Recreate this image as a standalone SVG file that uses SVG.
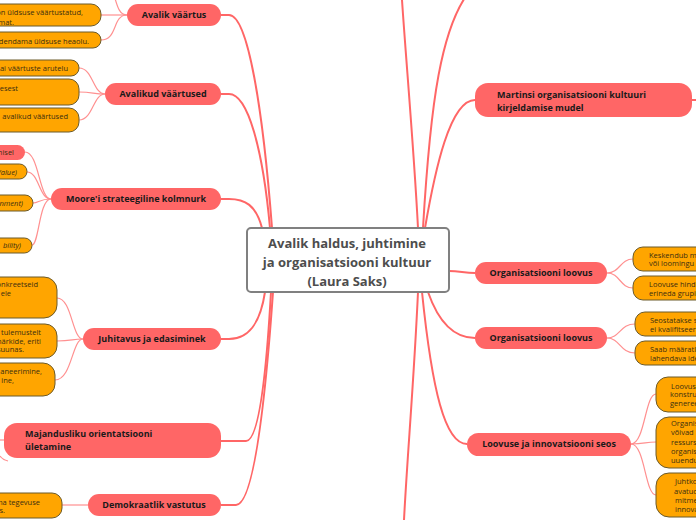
<svg xmlns="http://www.w3.org/2000/svg" width="696" height="520" viewBox="0 0 696 520">
<style>
.main rect{fill:#FF6666;}
.main text{font-family:"Open Sans","Noto Sans",sans-serif;font-weight:bold;font-size:9px;fill:#1a1a1a;}
.sub rect{fill:#FFA500;stroke:#6b5a2a;stroke-width:1;}
.sub text,.subr text{font-family:"Open Sans","Noto Sans",sans-serif;font-size:7.5px;fill:#3a2e10;}
.subr rect{fill:#FF6666;}
.it{font-style:italic;}
.c{text-anchor:middle;}
.e{text-anchor:end;}
#connectors path{fill:none;stroke:#FF6666;stroke-width:2;}
#connectors path.k{stroke:#FF9090;stroke-width:1.2;}
</style>
<rect width="696" height="520" fill="#ffffff"/>
<g id="connectors">
<path d="M221 15 L229 15 C248 15 263 110 272 228"/>
<path d="M221 94 L229 94 C248 94 263 150 270 228"/>
<path d="M221 199 L229 199 C245 199 256 205 262 228"/>
<path d="M221 339 L229 339 C248 339 260 325 265 292"/>
<path d="M221 441 L246 441 C258 441 266 380 271 292"/>
<path d="M221 505 L236 505 C252 505 264 420 273 292"/>
<path d="M418 228 C414 150 406 60 402 0"/>
<path d="M423 228 C430 110 440 20 475 -15"/>
<path d="M425 228 C435 170 450 100 475 100"/>
<path d="M449 271 C460 271 464 273 475 273"/>
<path d="M428 292 C436 315 450 338 475 338"/>
<path d="M422 292 C432 390 445 444 467 444"/>
<path d="M418 292 C414 380 407 460 404 520"/>
<path d="M692 100 L696 100"/>
<path class="k" d="M127 15 C112 15 118 -20 101 -20"/>
<path class="k" d="M127 15 L101 15"/>
<path class="k" d="M127 15 C112 15 118 40 101 40"/>
<path class="k" d="M105 94 C93 94 93 68 79 68"/>
<path class="k" d="M105 94 C93 94 93 92 79 92"/>
<path class="k" d="M105 94 C93 94 93 120 79 120"/>
<path class="k" d="M51 199 C39 199 39 152 25 152"/>
<path class="k" d="M51 199 C39 199 39 172 27 172"/>
<path class="k" d="M51 199 C39 199 39 203 33 203"/>
<path class="k" d="M51 199 C39 199 39 245 32 245"/>
<path class="k" d="M83 339 C72 339 72 298 57 298"/>
<path class="k" d="M83 339 C72 339 72 341 57 341"/>
<path class="k" d="M83 339 C72 339 72 380 55 380"/>
<path class="k" d="M88 505 L62 505"/>
<path class="k" d="M4 440 L0 440"/>
<path class="k" d="M0 456 Q3 460 8 461"/>
<path class="k" d="M607 273 C620 273 620 259 633 259"/>
<path class="k" d="M607 273 C620 273 620 288 633 288"/>
<path class="k" d="M607 338 C620 338 620 324 635 324"/>
<path class="k" d="M607 338 C620 338 620 353 635 353"/>
<path class="k" d="M631 444 C645 444 645 394 656 394"/>
<path class="k" d="M631 444 C645 444 645 442 656 442"/>
<path class="k" d="M631 444 C645 444 645 495 656 495"/>
</g>
<g id="center">
<rect x="247" y="228" width="202" height="64" rx="4" fill="#ffffff" stroke="#808080" stroke-width="2"/>
<text x="347" y="247.6" class="c" font-family="Open Sans, Noto Sans, sans-serif" font-weight="bold" font-size="13" fill="#4d4d4d">Avalik haldus, juhtimine</text>
<text x="347" y="266.6" class="c" font-family="Open Sans, Noto Sans, sans-serif" font-weight="bold" font-size="13" fill="#4d4d4d">ja organisatsiooni kultuur</text>
<text x="347" y="285.6" class="c" font-family="Open Sans, Noto Sans, sans-serif" font-weight="bold" font-size="13" fill="#4d4d4d">(Laura Saks)</text>
</g>
<g id="n-avalik-vaartus" class="main"><rect x="127" y="4" width="94" height="22" rx="11"/><text x="174" y="18.2" class="c">Avalik väärtus</text></g>
<g id="n-avalikud-vaartused" class="main"><rect x="105" y="83" width="116" height="22" rx="11"/><text x="163" y="97.2" class="c">Avalikud väärtused</text></g>
<g id="n-moore" class="main"><rect x="51" y="188" width="170" height="22" rx="11"/><text x="136" y="202.2" class="c">Moore'i strateegiline kolmnurk</text></g>
<g id="n-juhitavus" class="main"><rect x="83" y="328" width="138" height="22" rx="11"/><text x="152" y="342.2" class="c">Juhitavus ja edasiminek</text></g>
<g id="n-majandusliku" class="main"><rect x="4" y="423" width="217" height="35" rx="13"/><text x="25" y="437.2">Majandusliku orientatsiooni</text><text x="25" y="450.2">ületamine</text></g>
<g id="n-demokraatlik" class="main"><rect x="88" y="494" width="133" height="22" rx="11"/><text x="154" y="508.2" class="c">Demokraatlik vastutus</text></g>
<g id="n-martinsi" class="main"><rect x="475" y="83" width="217" height="34" rx="13"/><text x="497" y="98.2">Martinsi organisatsiooni kultuuri</text><text x="497" y="111.2">kirjeldamise mudel</text></g>
<g id="n-org-loovus-1" class="main"><rect x="475" y="262" width="132" height="22" rx="11"/><text x="541" y="276.2" class="c">Organisatsiooni loovus</text></g>
<g id="n-org-loovus-2" class="main"><rect x="475" y="327" width="132" height="22" rx="11"/><text x="541" y="341.2" class="c">Organisatsiooni loovus</text></g>
<g id="n-loovuse-seos" class="main"><rect x="467" y="433" width="164" height="23" rx="11.5"/><text x="549" y="447.2" class="c">Loovuse ja innovatsiooni seos</text></g>
<g id="n-a1" class="sub"><rect x="-20" y="4" width="121" height="22" rx="10"/><text x="83" y="14.6" class="e">on üldsuse väärtustatud,</text><text x="14" y="24.6" class="e">mat.</text></g>
<g id="n-a2" class="sub"><rect x="-20" y="32" width="121" height="16" rx="8"/><text x="89" y="43.6" class="e">edendama üldsuse heaolu.</text></g>
<g id="n-b1" class="sub"><rect x="-20" y="60" width="99" height="16" rx="8"/><text x="68" y="70.6" class="e">Lai väärtuste arutelu</text></g>
<g id="n-b2" class="sub"><rect x="-20" y="79" width="99" height="26" rx="10"/><text x="18" y="90.6" class="e">esest</text></g>
<g id="n-b3" class="sub"><rect x="-20" y="108" width="99" height="24" rx="10"/><text x="68" y="118.6" class="e">avalikud väärtused</text></g>
<g id="n-m1" class="subr"><rect x="-20" y="145" width="45" height="15" rx="7.5"/><text x="14" y="154.6" class="e">nisel</text></g>
<g id="n-m2" class="sub"><rect x="-20" y="164" width="47" height="15" rx="7.5"/><text x="17" y="174.6" class="e it">Value)</text></g>
<g id="n-m3" class="sub"><rect x="-20" y="195" width="53" height="16" rx="8"/><text x="23" y="205.6" class="e it">nment)</text></g>
<g id="n-m4" class="sub"><rect x="-20" y="238" width="52" height="15" rx="7.5"/><text x="21" y="247.6" class="e it">bility)</text></g>
<g id="n-j1" class="sub"><rect x="-20" y="277" width="77" height="41" rx="13"/><text x="38" y="286.6" class="e">onkreetseid</text><text x="11" y="295.6" class="e">ele</text></g>
<g id="n-j2" class="sub"><rect x="-20" y="324" width="77" height="34" rx="12"/><text x="41" y="334.6" class="e">tulemustelt</text><text x="41" y="343.6" class="e">närkide, eriti</text><text x="24" y="351.6" class="e">suunas.</text></g>
<g id="n-j3" class="sub"><rect x="-20" y="363" width="75" height="33" rx="12"/><text x="42" y="373.6" class="e">aneerimine,</text><text x="14" y="382.6" class="e">ine,</text></g>
<g id="n-d1" class="sub"><rect x="-20" y="493" width="82" height="25" rx="10"/><text x="40" y="504.6" class="e">ma tegevuse</text><text x="5" y="512.6" class="e">s.</text></g>
<g id="n-o1a" class="sub"><rect x="633" y="247" width="80" height="24" rx="10"/><text x="649" y="257.6">Keskendub me</text><text x="649" y="265.6">või loomingu t</text></g>
<g id="n-o1b" class="sub"><rect x="633" y="276" width="80" height="24" rx="10"/><text x="649" y="286.6">Loovuse hinda</text><text x="649" y="295.6">erineda grupi</text></g>
<g id="n-o2a" class="sub"><rect x="635" y="312" width="80" height="24" rx="10"/><text x="650" y="322.6">Seostatakse s</text><text x="650" y="331.6">ei kvalifitseeru</text></g>
<g id="n-o2b" class="sub"><rect x="635" y="341" width="80" height="24" rx="10"/><text x="650" y="351.6">Saab määratle</text><text x="650" y="360.6">lahendava ide</text></g>
<g id="n-l1" class="sub"><rect x="656" y="377" width="60" height="35" rx="12"/><text x="671" y="388.6">Loovus j</text><text x="670" y="396.6">konstru</text><text x="670" y="405.6">generee</text></g>
<g id="n-l2" class="sub"><rect x="656" y="417" width="60" height="51" rx="13"/><text x="671" y="425.6">Organis</text><text x="671" y="434.6">võivad</text><text x="671" y="444.6">ressurs</text><text x="671" y="453.6">organis</text><text x="671" y="462.6">uuendu</text></g>
<g id="n-l3" class="sub"><rect x="656" y="473" width="60" height="44" rx="13"/><text x="675" y="483.6">Juhtko</text><text x="674" y="493.6">avatud</text><text x="675" y="502.6">mitme</text><text x="675" y="511.6">innova</text></g>
</svg>
